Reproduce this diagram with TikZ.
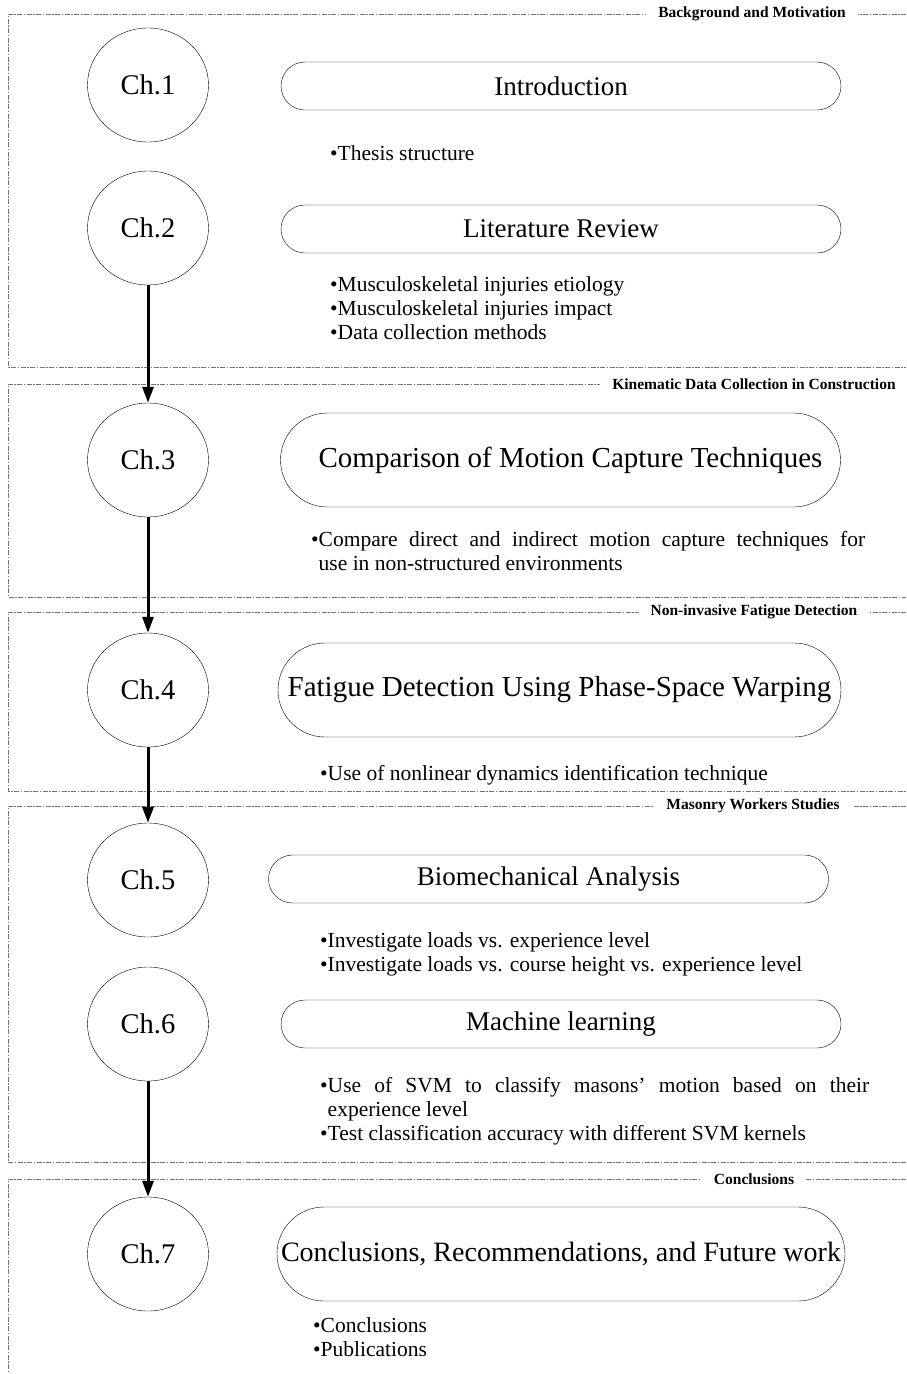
\documentclass[tikz,border=0pt]{standalone}
\usepackage{fontspec}
\setmainfont{Liberation Serif}
\usetikzlibrary{shapes.geometric, arrows.meta}

\begin{document}
\begin{tikzpicture}[x=1pt, y=-1pt,
            chap/.style={ellipse, draw=black, thin, minimum width=121pt, minimum height=114pt, inner sep=0pt, font=\fontsize{28.5}{30}\selectfont},
            topic/.style={rectangle, rounded corners=24pt, draw=black, thin, minimum width=560pt, minimum height=48pt, inner sep=0pt, font=\fontsize{27}{30}\selectfont},
            tall/.style={rounded corners=47pt, minimum height=94pt, font=\fontsize{29}{32}\selectfont},
            items/.style={anchor=north west, inner sep=0pt, align=left, font=\fontsize{21.5}{24}\selectfont},
            secframe/.style={draw=black!55, line width=0.9pt, dash pattern=on 5pt off 1.5pt on 1.5pt off 1.5pt},
            ftitle/.style={fill=white, inner xsep=12pt, inner ysep=1pt, font=\bfseries\fontsize{15.5}{18}\selectfont},
            flow/.style={-{Triangle[length=16pt, width=11pt]}, line width=3pt}]
            \useasboundingbox (0,0) rectangle (907,1374);
            % section frames
            \draw[secframe] (906,14) -- (8,14) -- (8,367) -- (906,367);
            \draw[secframe] (906,384) -- (8,384) -- (8,597) -- (906,597);
            \draw[secframe] (906,612) -- (8,612) -- (8,791) -- (906,791);
            \draw[secframe] (906,806) -- (8,806) -- (8,1162) -- (906,1162);
            \draw[secframe] (906,1179) -- (8,1179) -- (8,1374);
            \node[ftitle] (t1) at (752,14)   {Background and Motivation};
            \node[ftitle] (t2) at (754,384)  {Kinematic Data Collection in Construction};
            \node[ftitle] (t3) at (754,612)  {Non-invasive Fatigue Detection};
            \node[ftitle] (t4) at (753,806)  {Masonry Workers Studies};
            \node[ftitle] (t5) at (754,1179) {Conclusions};
            % chapters
            \node[chap] (c1) at (148,85)   {Ch.1};
            \node[chap] (c2) at (148,228)  {Ch.2};
            \node[chap] (c3) at (148,460)  {Ch.3};
            \node[chap] (c4) at (148,690)  {Ch.4};
            \node[chap] (c5) at (148,880)  {Ch.5};
            \node[chap] (c6) at (148,1024) {Ch.6};
            \node[chap] (c7) at (148,1254) {Ch.7};
            \node[topic] (b1) at (561,86)   {Introduction};
            \node[topic] (b2) at (561,229)  {Literature Review};
            \node[topic, tall] (b3) at (560.5,460) {\hspace*{20pt}Comparison of Motion Capture Techniques};
            \node[topic, tall, minimum width=563pt] (b4) at (559.5,690) {Fatigue Detection Using Phase-Space Warping};
            \node[topic] (b5) at (548.5,879) {Biomechanical Analysis};
            \node[topic] (b6) at (561,1024) {Machine learning};
            \node[topic, tall, minimum width=568pt, font=\fontsize{28}{32}\selectfont] (b7) at (561,1254) {Conclusions, Recommendations, and Future work};
            % bullet points
            \node[items] (i1) at (330,145) {\textbullet{}Thesis structure};
            \node[items] (i2) at (330,276) {\textbullet{}Musculoskeletal injuries etiology\\ \textbullet{}Musculoskeletal injuries impact\\ \textbullet{}Data collection methods};
            \node[items, text width=554pt, align=justify] (i3) at (311,531) {\hangindent=0.35em\hangafter=1 \textbullet{}Compare direct and indirect motion capture techniques for\linebreak use in non-structured environments\par};
            \node[items] (i4) at (320,765) {\textbullet{}Use of nonlinear dynamics identification technique};
            \node[items] (i5) at (320,932) {\textbullet{}Investigate loads vs. experience level\\ \textbullet{}Investigate loads vs. course height vs. experience level};
            \node[items, text width=549pt, align=justify] (i6) at (320,1077) {\hangindent=0.35em\hangafter=1 \textbullet{}Use of SVM to classify masons' motion based on their\linebreak experience level\par \textbullet{}Test classification accuracy with different SVM kernels\par};
            \node[items] (i7) at (313,1317) {\textbullet{}Conclusions\\ \textbullet{}Publications};
            \draw[flow] (c2) -- (c3);
            \draw[flow] (c3) -- (c4);
            \draw[flow] (c4) -- (c5);
            \draw[flow] (c6) -- (c7);
        \end{tikzpicture}
\end{document}
